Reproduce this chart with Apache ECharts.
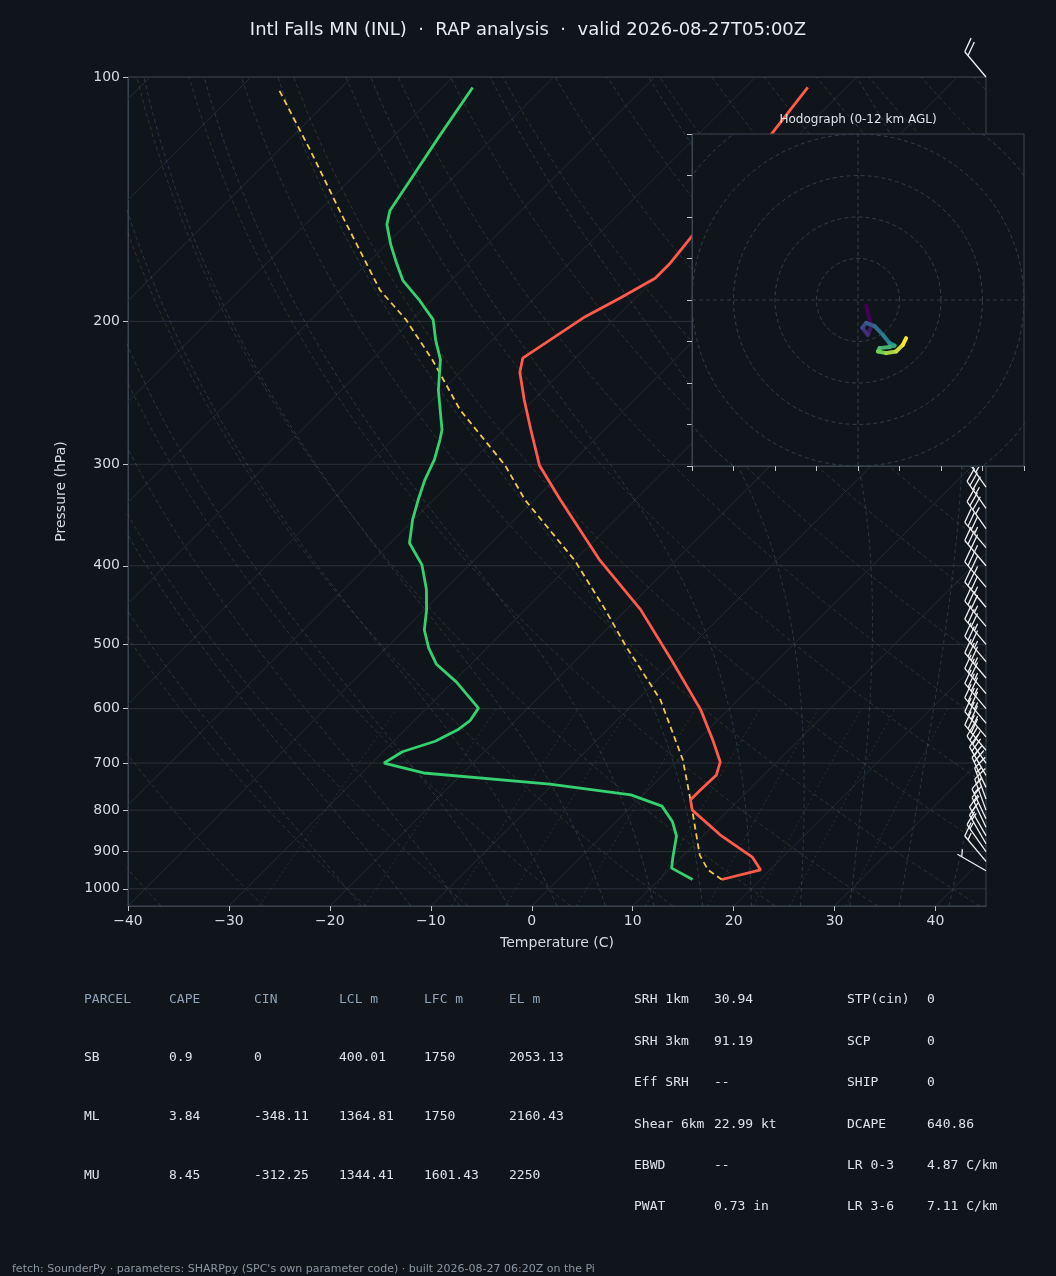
<!DOCTYPE html>
<html>
<head>
<meta charset="utf-8">
<script src="https://cdn.jsdelivr.net/npm/echarts@6/dist/echarts.min.js"></script>
<style>
  html, body { margin: 0; padding: 0; background: #10151c; }
  #chart { width: 1056px; height: 1276px; }
</style>
</head>
<body>
<div id="chart"></div>
<script>
// sounding: pressure (hPa) and temperature (C)
var tempP = [103, 158, 170, 177, 187, 198, 222, 231, 250, 272, 301, 332, 394, 453, 523, 602, 656, 698, 724, 756, 777, 800, 858, 914, 948, 974];
var tempT = [-53.8, -50.5, -50.0, -50.0, -51.5, -53.2, -55.2, -54.1, -50.9, -47.3, -42.9, -37.4, -27.5, -18.6, -10.5, -2.7, 1.5, 4.4, 5.3, 5.2, 5.2, 6.4, 11.6, 17.0, 19.1, 16.2];
var dewP = [103, 118, 134, 146, 152, 161, 170, 178, 188, 199, 211, 223, 243, 272, 280, 296, 314, 332, 351, 375, 399, 428, 453, 480, 505, 529, 556, 599, 620, 637, 658, 678, 700, 720, 743, 766, 791, 827, 861, 916, 943, 974];
var dewT = [-87.0, -85.5, -84.0, -83.0, -81.9, -79.5, -77.0, -74.8, -71.3, -67.9, -65.6, -63.2, -60.4, -56.1, -55.3, -53.9, -52.8, -51.5, -50.1, -48.1, -44.7, -41.8, -39.8, -38.0, -35.8, -33.4, -29.7, -24.9, -24.5, -24.8, -25.9, -28.1, -28.8, -23.9, -10.3, -1.2, 3.0, 5.6, 7.4, 9.2, 10.1, 13.3];
var parcelP = [104, 123, 146, 183, 199, 223, 257, 301, 332, 394, 453, 501, 585, 694, 777, 909, 948, 974];
var parcelT = [-105.8, -96.9, -88.0, -76.1, -70.6, -64.0, -56.3, -46.3, -40.9, -30.0, -22.1, -16.6, -7.7, 0.5, 5.2, 11.6, 13.9, 16.2];

// wind barbs: pressure, direction (deg), speed (kt)
var windP = [100, 300, 320, 340, 360, 380, 400, 425, 450, 475, 500, 525, 550, 575, 600, 625, 650, 675, 700, 725, 750, 775, 800, 820, 840, 860, 880, 900, 925, 950];
var windDir = [320, 325, 325, 325, 325, 320, 320, 320, 320, 320, 320, 320, 320, 320, 320, 320, 320, 320, 325, 330, 335, 340, 340, 335, 335, 330, 330, 325, 320, 300];
var windSpd = [20, 35, 35, 35, 35, 35, 35, 35, 35, 35, 35, 35, 35, 35, 35, 35, 35, 30, 30, 25, 20, 15, 15, 15, 15, 15, 15, 15, 15, 5];

// hodograph (kt)
var hodoU = [2.0, 3.2, 2.4, 1.0, 2.0, 4.0, 6.0, 7.6, 8.8, 7.6, 5.2, 4.8, 6.8, 9.2, 10.8, 11.6];
var hodoV = [-1.4, -6.3, -8.4, -6.7, -5.5, -6.3, -8.4, -10.4, -11.0, -11.3, -11.6, -12.4, -12.8, -12.4, -10.8, -9.2];

var parcelHead = ['PARCEL', 'CAPE', 'CIN', 'LCL m', 'LFC m', 'EL m'];
var parcelRows = [
  ['SB', '0.9', '0', '400.01', '1750', '2053.13'],
  ['ML', '3.84', '-348.11', '1364.81', '1750', '2160.43'],
  ['MU', '8.45', '-312.25', '1344.41', '1601.43', '2250']
];
var paramsA = [['SRH 1km', '30.94'], ['SRH 3km', '91.19'], ['Eff SRH', '--'], ['Shear 6km', '22.99 kt'], ['EBWD', '--'], ['PWAT', '0.73 in']];
var paramsB = [['STP(cin)', '0'], ['SCP', '0'], ['SHIP', '0'], ['DCAPE', '640.86'], ['LR 0-3', '4.87 C/km'], ['LR 3-6', '7.11 C/km']];

var SKEW = 34.95, PBOT = 1050, PTOP = 100;
function sx(t, p) { return t + SKEW * Math.log(PBOT / p); }
function pt(t, p) { return [sx(t, p), Math.log(p)]; }
function trace(P, T) { return P.map(function (p, i) { return pt(T[i], p); }); }

var series = [];
var bgLine = function (data, color, type, w) {
  series.push({ type: 'line', data: data, showSymbol: false, silent: true, clip: true,
    lineStyle: { color: color, width: w || 0.8, type: type }, z: 1 });
};
// isobars
[100, 200, 300, 400, 500, 600, 700, 800, 900, 1000].forEach(function (p) {
  bgLine([[-40, Math.log(p)], [45, Math.log(p)]], '#2a323c', 'solid', 1);
});
// isotherms
for (var t = -130; t <= 45; t += 10) bgLine([pt(t, PBOT), pt(t, PTOP)], '#232a32', 'solid', 1);
// dry adiabats
for (var th = -40; th <= 210; th += 10) {
  var d = [];
  for (var p = PBOT; p >= PTOP; p -= 10) d.push(pt((th + 273.15) * Math.pow(p / 1000, 0.2857) - 273.15, p));
  bgLine(d, 'rgba(150,125,80,0.35)', [4, 3]);
}
// moist adiabats
function es(tc) { return 6.112 * Math.exp(17.67 * tc / (tc + 243.5)); }
function dTdp(T, p) {
  var Rd = 287.04, cp = 1005.7, Lv = 2.501e6, eps = 0.622;
  var rs = eps * es(T - 273.15) / (p - es(T - 273.15));
  return (Rd * T + Lv * rs) / (p * (cp + Lv * Lv * rs * eps / (Rd * T * T)));
}
for (var t0 = -20; t0 <= 40; t0 += 5) {
  var T = t0 + 273.15, up = [], dn = [];
  for (var p = 1000; p >= PTOP; p -= 5) { up.push(pt(T - 273.15, p)); T -= dTdp(T, p) * 5; }
  T = t0 + 273.15;
  for (var p = 1000; p <= PBOT; p += 5) { dn.unshift(pt(T - 273.15, p)); T += dTdp(T, p) * 5; }
  bgLine(dn.concat(up), 'rgba(90,115,135,0.45)', [4, 3]);
}
// mixing ratio lines
[0.4, 1, 2, 3, 5, 8, 12, 16, 20, 28].forEach(function (w) {
  var d = [];
  for (var p = PBOT; p >= 600; p -= 10) {
    var e = (w / 1000) * p / (0.622 + w / 1000), l = Math.log(e / 6.112);
    d.push(pt(243.5 * l / (17.67 - l), p));
  }
  bgLine(d, 'rgba(110,150,100,0.3)', [2, 3]);
});

series.push({ type: 'line', data: trace(parcelP, parcelT), showSymbol: false, z: 3,
  lineStyle: { color: '#f2c94c', width: 1.8, type: [6, 4] } });
series.push({ type: 'line', data: trace(tempP, tempT), showSymbol: false, z: 4,
  lineStyle: { color: '#ff5a4a', width: 2.8 } });
series.push({ type: 'line', data: trace(dewP, dewT), showSymbol: false, z: 4,
  lineStyle: { color: '#35d06f', width: 2.8 } });

// wind barbs
series.push({
  type: 'custom', clip: false, z: 5,
  data: windP.map(function (p, i) { return [Math.log(p), windDir[i], windSpd[i]]; }),
  renderItem: function (params, api) {
    var base = api.coord([45, api.value(0)]);
    var dir = api.value(1) * Math.PI / 180, spd = api.value(2);
    var ux = Math.sin(dir), uy = -Math.cos(dir), L = 33;
    var a = 65 * Math.PI / 180;
    var fx = ux * Math.cos(a) - uy * Math.sin(a), fy = ux * Math.sin(a) + uy * Math.cos(a);
    var kids = [], ex = base[0] + ux * L, ey = base[1] + uy * L;
    kids.push({ type: 'line', shape: { x1: base[0], y1: base[1], x2: ex, y2: ey } });
    var n10 = Math.floor(spd / 10), n5 = Math.round((spd - n10 * 10) / 5), pos = 0;
    for (var k = 0; k < n10; k++) {
      var sxp = ex - ux * pos * 5, syp = ey - uy * pos * 5;
      kids.push({ type: 'line', shape: { x1: sxp, y1: syp, x2: sxp + fx * 15, y2: syp + fy * 15 } });
      pos++;
    }
    if (n5) {
      if (n10 === 0) pos = 1;
      var sxp = ex - ux * pos * 5, syp = ey - uy * pos * 5;
      kids.push({ type: 'line', shape: { x1: sxp, y1: syp, x2: sxp + fx * 7.5, y2: syp + fy * 7.5 } });
    }
    return { type: 'group', children: kids.map(function (c) {
      c.style = { stroke: '#f0f0f0', lineWidth: 1.3 }; return c; }) };
  }
});

// hodograph
var ring = function (r) {
  var d = [];
  for (var k = 0; k <= 120; k++) d.push([r * Math.cos(k * Math.PI / 60), r * Math.sin(k * Math.PI / 60)]);
  return d;
};
var hodoGrid = { color: '#38424e', width: 0.9, type: [4, 3] };
[10, 20, 30, 40, 50].forEach(function (r) {
  series.push({ type: 'line', xAxisIndex: 1, yAxisIndex: 1, data: ring(r), showSymbol: false, silent: true, lineStyle: hodoGrid, z: 10 });
});
series.push({ type: 'line', xAxisIndex: 1, yAxisIndex: 1, data: [[-40, 0], [40, 0]], showSymbol: false, lineStyle: hodoGrid, z: 10 });
series.push({ type: 'line', xAxisIndex: 1, yAxisIndex: 1, data: [[0, -40], [0, 40]], showSymbol: false, lineStyle: hodoGrid, z: 10 });
var viridis = [[68, 1, 84], [59, 82, 139], [33, 145, 140], [94, 201, 98], [253, 231, 37]];
function vir(f) {
  var s = f * (viridis.length - 1), i = Math.min(Math.floor(s), viridis.length - 2), r = s - i;
  var c = viridis[i].map(function (v, k) { return Math.round(v + (viridis[i + 1][k] - v) * r); });
  return 'rgb(' + c.join(',') + ')';
}
for (var i = 0; i < hodoU.length - 1; i++) {
  series.push({ type: 'line', xAxisIndex: 1, yAxisIndex: 1, showSymbol: false, z: 11,
    data: [[hodoU[i], hodoV[i]], [hodoU[i + 1], hodoV[i + 1]]],
    lineStyle: { width: 4, cap: 'round', color: vir(i / (hodoU.length - 2)) } });
}

var mono = 'DejaVu Sans Mono';
var graphics = [];
function txt(x, y, s, color, size, font, align) {
  graphics.push({ type: 'text', x: x, y: y, style: { text: s, fill: color, font: (size || 13) + 'px "' + (font || mono) + '"',
    textAlign: align || 'left', textVerticalAlign: 'middle' }, z: 20 });
}
var colX = [84, 169, 254, 339, 424, 509];
parcelHead.forEach(function (h, i) { txt(colX[i], 1000, h, '#8ea3ba'); });
parcelRows.forEach(function (row, r) {
  row.forEach(function (c, i) { txt(colX[i], 1058 + r * 59, c, '#dfe3e8'); });
});
paramsA.forEach(function (p, i) { txt(634, 1000 + i * 41.4, p[0], '#dfe3e8'); txt(714, 1000 + i * 41.4, p[1], '#dfe3e8'); });
paramsB.forEach(function (p, i) { txt(847, 1000 + i * 41.4, p[0], '#dfe3e8'); txt(927, 1000 + i * 41.4, p[1], '#dfe3e8'); });
txt(12, 1269, 'fetch: SounderPy · parameters: SHARPpy (SPC\'s own parameter code) · built 2026-08-27 06:20Z on the Pi', '#8a96a3', 11, 'DejaVu Sans');
txt(858, 120, 'Hodograph (0-12 km AGL)', '#dfe3e8', 12, 'DejaVu Sans', 'center');

var axisTxt = { color: '#d6dbe0', fontSize: 14, fontFamily: 'DejaVu Sans' };
var pLabels = [100, 200, 300, 400, 500, 600, 700, 800, 900, 1000].map(function (p) { return Math.log(p); });

var chart = echarts.init(document.getElementById('chart'));
chart.setOption({
  backgroundColor: '#10151c',
  animation: false,
  title: { text: 'Intl Falls MN (INL)  ·  RAP analysis  ·  valid 2026-08-27T05:00Z', left: 'center', top: 16,
    textStyle: { color: '#e8eaed', fontSize: 18, fontWeight: 'normal', fontFamily: 'DejaVu Sans' } },
  grid: [
    { left: 128, right: 70, top: 77, bottom: 370, show: true, borderColor: '#3a4450', borderWidth: 1 },
    { left: 692, width: 332, top: 134, height: 332, show: true, backgroundColor: '#10151c', borderColor: '#3a4450', z: 9 }
  ],
  xAxis: [
    { type: 'value', gridIndex: 0, min: -40, max: 45, interval: 10, name: 'Temperature (C)', nameLocation: 'middle', nameGap: 30,
      nameTextStyle: { color: '#d6dbe0', fontSize: 14, fontFamily: 'DejaVu Sans' },
      axisLine: { onZero: false, lineStyle: { color: '#3a4450' } }, axisTick: { lineStyle: { color: '#c0c6cc' }, length: 5 },
      axisLabel: Object.assign({ showMaxLabel: false, formatter: function (v) { return v < 0 ? '\u2212' + (-v) : v; } }, axisTxt),
      splitLine: { show: false } },
    { type: 'value', gridIndex: 1, min: -40, max: 40, interval: 10, z: 9,
      axisLine: { onZero: false, lineStyle: { color: '#3a4450' } }, axisTick: { lineStyle: { color: '#c0c6cc' } },
      axisLabel: { show: false }, splitLine: { show: false } }
  ],
  yAxis: [
    { type: 'value', gridIndex: 0, inverse: true, min: Math.log(PTOP), max: Math.log(PBOT), name: 'Pressure (hPa)',
      nameLocation: 'middle', nameGap: 60, nameTextStyle: { color: '#d6dbe0', fontSize: 14, fontFamily: 'DejaVu Sans' },
      axisLine: { onZero: false, lineStyle: { color: '#3a4450' } },
      axisTick: { customValues: pLabels, lineStyle: { color: '#c0c6cc' }, length: 5 },
      axisLabel: Object.assign({ customValues: pLabels, formatter: function (v) { return Math.round(Math.exp(v)); } }, axisTxt),
      splitLine: { show: false } },
    { type: 'value', gridIndex: 1, min: -40, max: 40, interval: 10, z: 9,
      axisLine: { onZero: false, lineStyle: { color: '#3a4450' } }, axisTick: { lineStyle: { color: '#c0c6cc' } },
      axisLabel: { show: false }, splitLine: { show: false } }
  ],
  graphic: graphics,
  series: series
});
</script>
</body>
</html>
